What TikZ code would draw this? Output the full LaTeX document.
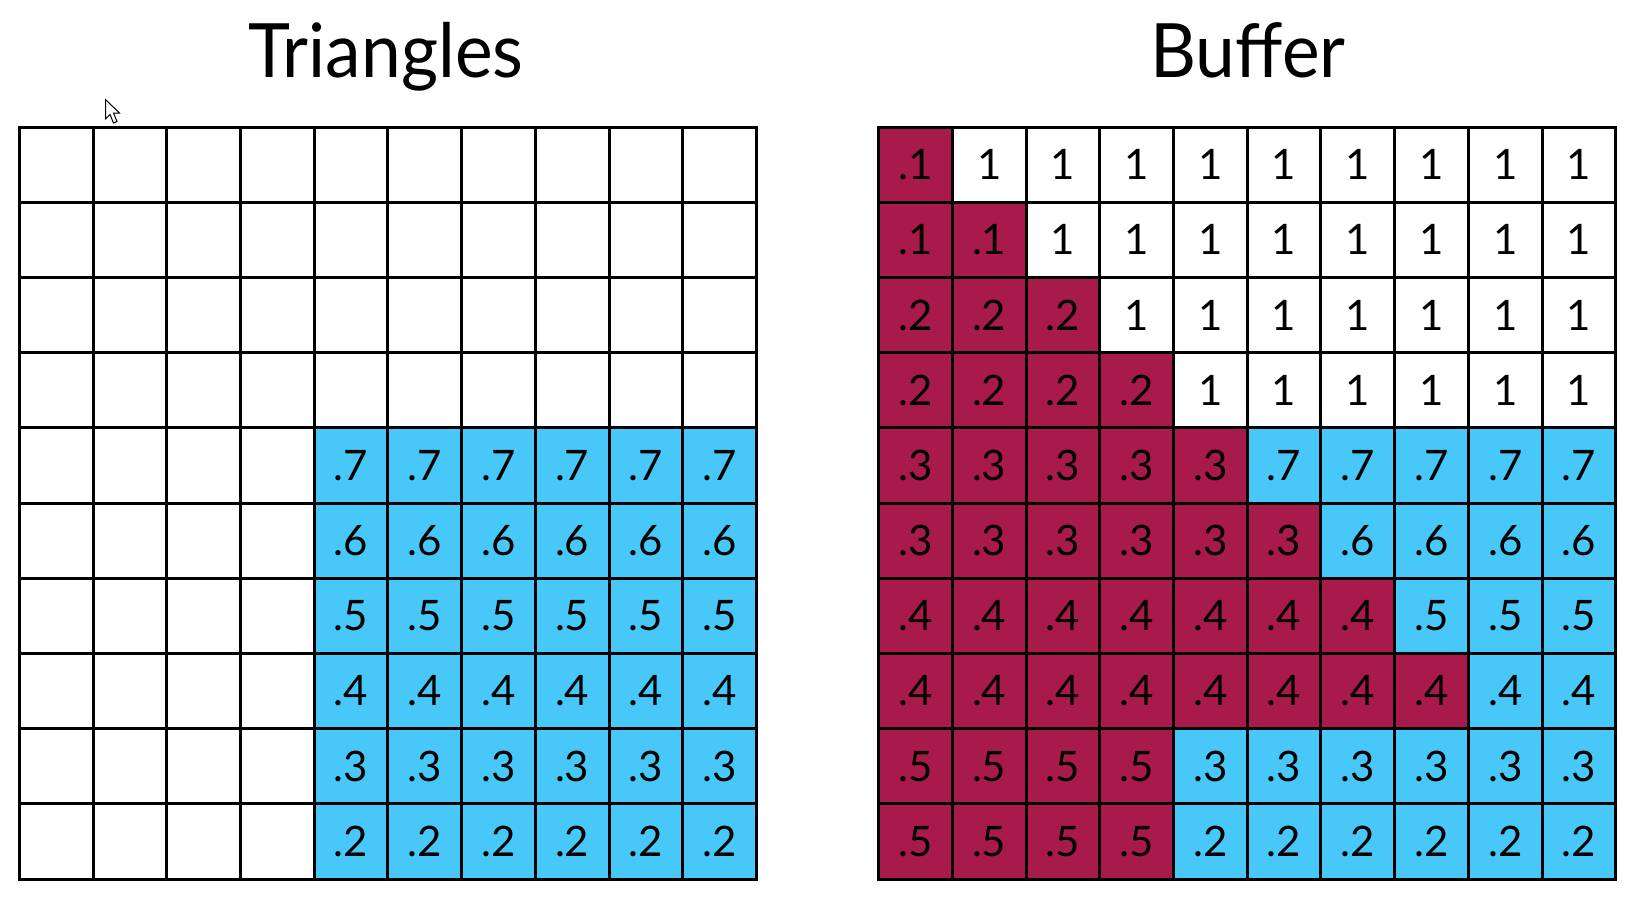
\documentclass[tikz,border=0pt]{standalone}
\usepackage{fontspec}
\setmainfont{Lato}
\definecolor{crim}{HTML}{A81A4B}
\definecolor{sky}{HTML}{47C8F8}
\tikzset{
  cell/.style={draw=black, line width=3pt, minimum width=73.72pt, minimum height=75.2pt,
    inner sep=0pt, outer sep=0pt, font=\fontsize{42}{42}\selectfont, anchor=center},
  title/.style={font=\fontsize{75}{75}\selectfont, anchor=base, inner sep=0pt, xscale=0.95}
}
\begin{document}
\begin{tikzpicture}[x=1pt,y=-1pt]
\useasboundingbox[fill=white] (0,0) rectangle (1642,906);
% titles
\node[title] (t1) at (386,77) {Triangles};
\node[title] (t2) at (1248,77) {Buffer};
% left grid
\foreach \r in {0,...,9}{
  \foreach \c in {0,...,9}{
    \ifnum\r>3 \ifnum\c>3
      \node[cell, fill=sky] (L-\r-\c) at ({19.3+73.72*(\c+0.5)},{127+75.2*(\r+0.5)}) {.\the\numexpr11-\r\relax};
    \else
      \node[cell] (L-\r-\c) at ({19.3+73.72*(\c+0.5)},{127+75.2*(\r+0.5)}) {};
    \fi\else
      \node[cell] (L-\r-\c) at ({19.3+73.72*(\c+0.5)},{127+75.2*(\r+0.5)}) {};
    \fi
  }
}
% right grid
\foreach \r/\n/\a/\b/\col in {0/1/.1/1/white, 1/2/.1/1/white, 2/3/.2/1/white, 3/4/.2/1/white,
  4/5/.3/.7/sky, 5/6/.3/.6/sky, 6/7/.4/.5/sky, 7/8/.4/.4/sky, 8/4/.5/.3/sky, 9/4/.5/.2/sky}{
  \foreach \c in {0,...,9}{
    \ifnum\c<\n \def\fc{crim}\def\tx{\a}\else\def\fc{\col}\def\tx{\b}\fi
    \node[cell, fill=\fc] (R-\r-\c) at ({878.6+73.72*(\c+0.5)},{127+75.2*(\r+0.5)}) {\tx};
  }
}
% mouse cursor
\draw[fill=white, line width=1pt, line join=miter] (105.5,99.5) -- (105.5,119) -- (110,114.5) -- (113.5,123) -- (117,121.5) -- (113.5,113) -- (119.5,113) -- cycle;
\end{tikzpicture}
\end{document}
